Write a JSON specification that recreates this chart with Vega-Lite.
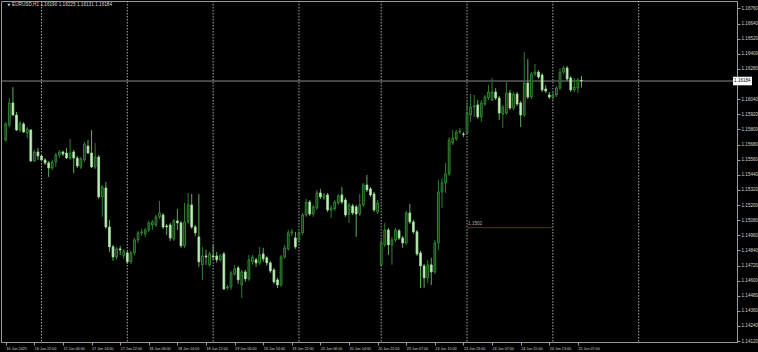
{
  "$schema": "https://vega.github.io/schema/vega-lite/v6.json",
  "width": 736,
  "height": 341,
  "autosize": {"type": "none"},
  "padding": {"left": 1, "top": 1, "right": 21, "bottom": 10},
  "background": "#000000",
  "config": {
    "view": {"stroke": "#9a9a9a", "strokeWidth": 1, "fill": "#000000"},
    "axis": {"domainColor": "#9a9a9a", "tickColor": "#9a9a9a", "labelColor": "#d4d4d4", "labelFont": "Liberation Sans", "labelFontSize": 4.6, "grid": false, "title": null, "tickSize": 3, "labelPadding": 1, "labelOverlap": false, "labelSeparation": 0}
  },
  "resolve": {"axis": {"x": "independent", "y": "independent"}},
  "datasets": {
    "bars": [
      {"k":0,"o":1.15716,"h":1.15859,"l":1.15700,"c":1.15843},
      {"k":1,"o":1.15835,"h":1.16049,"l":1.15819,"c":1.16010},
      {"k":2,"o":1.16010,"h":1.16136,"l":1.15906,"c":1.15914},
      {"k":3,"o":1.15914,"h":1.15938,"l":1.15788,"c":1.15795},
      {"k":4,"o":1.15795,"h":1.15867,"l":1.15780,"c":1.15851},
      {"k":5,"o":1.15843,"h":1.15859,"l":1.15772,"c":1.15780},
      {"k":6,"o":1.15772,"h":1.15819,"l":1.15732,"c":1.15803},
      {"k":7,"o":1.15795,"h":1.15803,"l":1.15542,"c":1.15550},
      {"k":8,"o":1.15550,"h":1.15637,"l":1.15542,"c":1.15621},
      {"k":9,"o":1.15621,"h":1.15653,"l":1.15558,"c":1.15589},
      {"k":10,"o":1.15589,"h":1.15605,"l":1.15550,"c":1.15558},
      {"k":11,"o":1.15558,"h":1.15573,"l":1.15518,"c":1.15534},
      {"k":12,"o":1.15534,"h":1.15550,"l":1.15423,"c":1.15494},
      {"k":13,"o":1.15494,"h":1.15558,"l":1.15478,"c":1.15542},
      {"k":14,"o":1.15542,"h":1.15613,"l":1.15502,"c":1.15597},
      {"k":15,"o":1.15597,"h":1.15637,"l":1.15573,"c":1.15621},
      {"k":16,"o":1.15621,"h":1.15629,"l":1.15589,"c":1.15605},
      {"k":17,"o":1.15613,"h":1.15653,"l":1.15565,"c":1.15573},
      {"k":18,"o":1.15573,"h":1.15724,"l":1.15558,"c":1.15613},
      {"k":19,"o":1.15621,"h":1.15637,"l":1.15454,"c":1.15573},
      {"k":20,"o":1.15573,"h":1.15589,"l":1.15494,"c":1.15510},
      {"k":21,"o":1.15502,"h":1.15581,"l":1.15486,"c":1.15565},
      {"k":22,"o":1.15558,"h":1.15700,"l":1.15542,"c":1.15684},
      {"k":23,"o":1.15668,"h":1.15716,"l":1.15605,"c":1.15613},
      {"k":24,"o":1.15613,"h":1.15795,"l":1.15494,"c":1.15502},
      {"k":25,"o":1.15502,"h":1.15692,"l":1.15486,"c":1.15581},
      {"k":26,"o":1.15581,"h":1.15597,"l":1.15248,"c":1.15264},
      {"k":27,"o":1.15264,"h":1.15359,"l":1.15106,"c":1.15343},
      {"k":28,"o":1.15335,"h":1.15383,"l":1.15010,"c":1.15026},
      {"k":29,"o":1.15026,"h":1.15082,"l":1.14828,"c":1.14868},
      {"k":30,"o":1.14868,"h":1.14884,"l":1.14757,"c":1.14788},
      {"k":31,"o":1.14788,"h":1.14868,"l":1.14765,"c":1.14852},
      {"k":32,"o":1.14852,"h":1.14876,"l":1.14804,"c":1.14844},
      {"k":33,"o":1.14796,"h":1.14852,"l":1.14773,"c":1.14836},
      {"k":34,"o":1.14820,"h":1.14836,"l":1.14733,"c":1.14749},
      {"k":35,"o":1.14749,"h":1.14836,"l":1.14733,"c":1.14820},
      {"k":36,"o":1.14820,"h":1.14939,"l":1.14804,"c":1.14923},
      {"k":37,"o":1.14923,"h":1.14995,"l":1.14899,"c":1.14979},
      {"k":38,"o":1.14979,"h":1.15010,"l":1.14955,"c":1.14987},
      {"k":39,"o":1.14971,"h":1.15018,"l":1.14947,"c":1.15002},
      {"k":40,"o":1.15002,"h":1.15074,"l":1.14987,"c":1.15058},
      {"k":41,"o":1.15042,"h":1.15082,"l":1.15002,"c":1.15066},
      {"k":42,"o":1.15042,"h":1.15121,"l":1.15026,"c":1.15106},
      {"k":43,"o":1.15106,"h":1.15232,"l":1.15090,"c":1.15137},
      {"k":44,"o":1.15121,"h":1.15137,"l":1.15010,"c":1.15026},
      {"k":45,"o":1.15034,"h":1.15050,"l":1.14963,"c":1.15026},
      {"k":46,"o":1.15042,"h":1.15058,"l":1.14915,"c":1.14939},
      {"k":47,"o":1.14931,"h":1.15090,"l":1.14915,"c":1.15074},
      {"k":48,"o":1.15074,"h":1.15169,"l":1.15002,"c":1.15058},
      {"k":49,"o":1.15058,"h":1.15074,"l":1.14860,"c":1.14876},
      {"k":50,"o":1.14876,"h":1.15217,"l":1.14860,"c":1.15066},
      {"k":51,"o":1.15066,"h":1.15296,"l":1.15050,"c":1.15201},
      {"k":52,"o":1.15201,"h":1.15288,"l":1.15010,"c":1.15026},
      {"k":53,"o":1.15026,"h":1.15042,"l":1.14955,"c":1.14979},
      {"k":54,"o":1.14947,"h":1.15288,"l":1.14709,"c":1.14749},
      {"k":55,"o":1.14725,"h":1.14868,"l":1.14606,"c":1.14796},
      {"k":56,"o":1.14796,"h":1.14844,"l":1.14725,"c":1.14788},
      {"k":57,"o":1.14725,"h":1.14828,"l":1.14709,"c":1.14812},
      {"k":58,"o":1.14796,"h":1.14884,"l":1.14765,"c":1.14788},
      {"k":59,"o":1.14796,"h":1.14828,"l":1.14741,"c":1.14765},
      {"k":60,"o":1.14765,"h":1.14812,"l":1.14749,"c":1.14796},
      {"k":61,"o":1.14812,"h":1.14828,"l":1.14527,"c":1.14534},
      {"k":62,"o":1.14542,"h":1.14566,"l":1.14527,"c":1.14550},
      {"k":63,"o":1.14550,"h":1.14677,"l":1.14527,"c":1.14661},
      {"k":64,"o":1.14653,"h":1.14725,"l":1.14638,"c":1.14693},
      {"k":65,"o":1.14701,"h":1.14717,"l":1.14574,"c":1.14606},
      {"k":66,"o":1.14566,"h":1.14685,"l":1.14463,"c":1.14669},
      {"k":67,"o":1.14669,"h":1.14685,"l":1.14590,"c":1.14614},
      {"k":68,"o":1.14614,"h":1.14804,"l":1.14598,"c":1.14765},
      {"k":69,"o":1.14749,"h":1.14804,"l":1.14725,"c":1.14788},
      {"k":70,"o":1.14765,"h":1.14781,"l":1.14709,"c":1.14741},
      {"k":71,"o":1.14741,"h":1.14868,"l":1.14725,"c":1.14804},
      {"k":72,"o":1.14812,"h":1.14860,"l":1.14749,"c":1.14773},
      {"k":73,"o":1.14781,"h":1.14796,"l":1.14717,"c":1.14741},
      {"k":74,"o":1.14741,"h":1.14757,"l":1.14661,"c":1.14677},
      {"k":75,"o":1.14685,"h":1.14701,"l":1.14574,"c":1.14590},
      {"k":76,"o":1.14606,"h":1.14622,"l":1.14542,"c":1.14566},
      {"k":77,"o":1.14566,"h":1.14804,"l":1.14550,"c":1.14788},
      {"k":78,"o":1.14788,"h":1.14884,"l":1.14773,"c":1.14860},
      {"k":79,"o":1.14852,"h":1.15002,"l":1.14836,"c":1.14979},
      {"k":80,"o":1.14979,"h":1.15010,"l":1.14955,"c":1.14987},
      {"k":81,"o":1.14939,"h":1.14987,"l":1.14852,"c":1.14868},
      {"k":82,"o":1.14923,"h":1.14995,"l":1.14899,"c":1.14979},
      {"k":83,"o":1.14979,"h":1.15137,"l":1.14963,"c":1.15121},
      {"k":84,"o":1.15121,"h":1.15248,"l":1.15106,"c":1.15224},
      {"k":85,"o":1.15224,"h":1.15240,"l":1.15114,"c":1.15129},
      {"k":86,"o":1.15129,"h":1.15201,"l":1.15106,"c":1.15185},
      {"k":87,"o":1.15177,"h":1.15320,"l":1.15161,"c":1.15296},
      {"k":88,"o":1.15296,"h":1.15328,"l":1.15248,"c":1.15264},
      {"k":89,"o":1.15256,"h":1.15296,"l":1.15240,"c":1.15280},
      {"k":90,"o":1.15280,"h":1.15296,"l":1.15145,"c":1.15161},
      {"k":91,"o":1.15161,"h":1.15201,"l":1.15098,"c":1.15177},
      {"k":92,"o":1.15169,"h":1.15240,"l":1.15153,"c":1.15224},
      {"k":93,"o":1.15217,"h":1.15288,"l":1.15201,"c":1.15272},
      {"k":94,"o":1.15280,"h":1.15343,"l":1.15209,"c":1.15224},
      {"k":95,"o":1.15240,"h":1.15256,"l":1.15106,"c":1.15121},
      {"k":96,"o":1.15129,"h":1.15217,"l":1.15058,"c":1.15201},
      {"k":97,"o":1.15193,"h":1.15209,"l":1.15121,"c":1.15137},
      {"k":98,"o":1.15185,"h":1.15201,"l":1.14947,"c":1.15129},
      {"k":99,"o":1.15129,"h":1.15288,"l":1.15114,"c":1.15201},
      {"k":100,"o":1.15201,"h":1.15375,"l":1.15185,"c":1.15359},
      {"k":101,"o":1.15359,"h":1.15439,"l":1.15304,"c":1.15320},
      {"k":102,"o":1.15328,"h":1.15343,"l":1.15264,"c":1.15280},
      {"k":103,"o":1.15288,"h":1.15304,"l":1.15145,"c":1.15161},
      {"k":104,"o":1.15145,"h":1.15240,"l":1.15129,"c":1.15217},
      {"k":105,"o":1.14725,"h":1.14923,"l":1.14709,"c":1.14899},
      {"k":106,"o":1.14884,"h":1.15058,"l":1.14868,"c":1.15002},
      {"k":107,"o":1.15002,"h":1.15018,"l":1.14804,"c":1.14884},
      {"k":108,"o":1.14884,"h":1.14947,"l":1.14725,"c":1.14923},
      {"k":109,"o":1.14923,"h":1.15018,"l":1.14907,"c":1.15002},
      {"k":110,"o":1.14995,"h":1.15010,"l":1.14923,"c":1.14939},
      {"k":111,"o":1.14939,"h":1.14955,"l":1.14860,"c":1.14899},
      {"k":112,"o":1.14899,"h":1.15153,"l":1.14884,"c":1.15137},
      {"k":113,"o":1.15137,"h":1.15209,"l":1.15050,"c":1.15066},
      {"k":114,"o":1.15066,"h":1.15082,"l":1.14971,"c":1.14987},
      {"k":115,"o":1.14987,"h":1.15002,"l":1.14796,"c":1.14812},
      {"k":116,"o":1.14820,"h":1.14836,"l":1.14542,"c":1.14717},
      {"k":117,"o":1.14717,"h":1.14733,"l":1.14542,"c":1.14622},
      {"k":118,"o":1.14622,"h":1.14765,"l":1.14582,"c":1.14725},
      {"k":119,"o":1.14725,"h":1.14781,"l":1.14566,"c":1.14669},
      {"k":120,"o":1.14669,"h":1.14923,"l":1.14653,"c":1.14899},
      {"k":121,"o":1.14899,"h":1.15399,"l":1.14844,"c":1.15304},
      {"k":122,"o":1.15304,"h":1.15415,"l":1.15177,"c":1.15375},
      {"k":123,"o":1.15375,"h":1.15534,"l":1.15296,"c":1.15447},
      {"k":124,"o":1.15447,"h":1.15740,"l":1.15431,"c":1.15716},
      {"k":125,"o":1.15692,"h":1.15795,"l":1.15676,"c":1.15732},
      {"k":126,"o":1.15724,"h":1.15795,"l":1.15708,"c":1.15780},
      {"k":127,"o":1.15780,"h":1.15811,"l":1.15764,"c":1.15788},
      {"k":128,"o":1.15764,"h":1.15780,"l":1.15740,"c":1.15760},
      {"k":129,"o":1.15772,"h":1.16017,"l":1.15756,"c":1.15930},
      {"k":130,"o":1.15914,"h":1.16081,"l":1.15859,"c":1.15978},
      {"k":131,"o":1.15978,"h":1.16073,"l":1.15899,"c":1.15986},
      {"k":132,"o":1.15994,"h":1.16033,"l":1.15883,"c":1.15899},
      {"k":133,"o":1.15899,"h":1.16033,"l":1.15859,"c":1.16010},
      {"k":134,"o":1.16002,"h":1.16073,"l":1.15986,"c":1.16057},
      {"k":135,"o":1.16049,"h":1.16152,"l":1.16033,"c":1.16097},
      {"k":136,"o":1.16033,"h":1.16208,"l":1.16025,"c":1.16097},
      {"k":137,"o":1.16097,"h":1.16128,"l":1.16033,"c":1.16049},
      {"k":138,"o":1.16049,"h":1.16065,"l":1.15875,"c":1.15930},
      {"k":139,"o":1.15922,"h":1.15994,"l":1.15811,"c":1.15978},
      {"k":140,"o":1.15930,"h":1.16176,"l":1.15914,"c":1.16089},
      {"k":141,"o":1.16089,"h":1.16113,"l":1.15954,"c":1.15970},
      {"k":142,"o":1.15970,"h":1.16097,"l":1.15954,"c":1.16081},
      {"k":143,"o":1.16081,"h":1.16097,"l":1.15986,"c":1.16002},
      {"k":144,"o":1.16010,"h":1.16025,"l":1.15819,"c":1.15914},
      {"k":145,"o":1.15914,"h":1.16414,"l":1.15899,"c":1.16168},
      {"k":146,"o":1.16168,"h":1.16358,"l":1.16041,"c":1.16057},
      {"k":147,"o":1.16057,"h":1.16255,"l":1.16041,"c":1.16240},
      {"k":148,"o":1.16240,"h":1.16319,"l":1.16224,"c":1.16255},
      {"k":149,"o":1.16255,"h":1.16271,"l":1.16200,"c":1.16216},
      {"k":150,"o":1.16232,"h":1.16247,"l":1.16097,"c":1.16113},
      {"k":151,"o":1.16121,"h":1.16152,"l":1.16089,"c":1.16105},
      {"k":152,"o":1.16073,"h":1.16097,"l":1.16041,"c":1.16057},
      {"k":153,"o":1.16057,"h":1.16097,"l":1.16033,"c":1.16073},
      {"k":154,"o":1.16073,"h":1.16144,"l":1.16057,"c":1.16128},
      {"k":155,"o":1.16128,"h":1.16287,"l":1.16113,"c":1.16255},
      {"k":156,"o":1.16255,"h":1.16303,"l":1.16240,"c":1.16287},
      {"k":157,"o":1.16287,"h":1.16303,"l":1.16184,"c":1.16200},
      {"k":158,"o":1.16208,"h":1.16224,"l":1.16097,"c":1.16113},
      {"k":159,"o":1.16113,"h":1.16208,"l":1.16097,"c":1.16136},
      {"k":160,"o":1.16128,"h":1.16208,"l":1.16089,"c":1.16192},
      {"k":161,"o":1.16190,"h":1.16225,"l":1.16131,"c":1.16184}
    ],
    "seps": [{"k":10},{"k":34},{"k":58},{"k":82},{"k":105},{"k":129},{"k":153},{"k":177}]
  },
  "layer": [
    {
      "data": {"name": "seps"},
      "mark": {"type": "rule", "color": "#a8a8a8", "strokeWidth": 1, "strokeDash": [1.5, 1.5]},
      "encoding": {
        "x": {"field": "k", "type": "quantitative", "scale": {"domain": [0.07, 203.1], "nice": false, "zero": false},
          "axis": {"orient": "bottom", "values": [0.07,8,16,24,32,40,48,56,64,72,80,88,96,104,112,120,128,136,144,152,160],
            "labelAlign": "left", "labelBaseline": "top", "labelFlush": false, "labelOverlap": false, "labelBound": false, "labelPadding": 1, "labelFontSize": 3.7,
            "labelExpr": "datum.value < 1 ? '16 Jun 2025' : ['16 Jun 22:00','17 Jun 06:00','17 Jun 14:00','17 Jun 22:00','18 Jun 06:00','18 Jun 14:00','18 Jun 22:00','19 Jun 06:00','19 Jun 14:00','19 Jun 22:00','20 Jun 06:00','20 Jun 14:00','20 Jun 22:00','23 Jun 07:00','23 Jun 15:00','23 Jun 23:00','24 Jun 07:00','24 Jun 15:00','24 Jun 23:00','25 Jun 07:00'][round(datum.value/8)-1]"}}
      }
    },
    {
      "data": {"values": [{}]},
      "mark": {"type": "rule", "color": "#8a8a8a", "strokeWidth": 1},
      "encoding": {
        "y": {"datum": 1.16184, "type": "quantitative", "scale": {"domain": [1.14113, 1.16819], "nice": false, "zero": false},
          "axis": {"orient": "right", "format": ".5f", "labelAlign": "left", "labelBaseline": "middle", "labelOverlap": false, "labelBound": false, "labelFlush": false,
            "values": [1.1412,1.1424,1.1436,1.1448,1.146,1.1472,1.1484,1.1496,1.1508,1.152,1.1532,1.1544,1.1556,1.1568,1.158,1.1592,1.1604,1.1628,1.164,1.1652,1.1664,1.1676]}}
      }
    },
    {
      "data": {"values": [{}]},
      "mark": {"type": "rule", "color": "#6e1616", "strokeWidth": 1.2},
      "encoding": {
        "x": {"datum": 129, "type": "quantitative", "axis": null},
        "x2": {"datum": 152.7},
        "y": {"datum": 1.1502, "type": "quantitative", "axis": null}
      }
    },
    {
      "data": {"values": [{}]},
      "mark": {"type": "text", "text": "1.1502", "color": "#b0b0b0", "font": "Liberation Sans", "fontSize": 4.6, "align": "left", "baseline": "bottom", "dy": -1.5},
      "encoding": {
        "x": {"datum": 129.3, "type": "quantitative", "axis": null},
        "y": {"datum": 1.1502, "type": "quantitative", "axis": null}
      }
    },
    {
      "data": {"name": "bars"},
      "mark": {"type": "rule", "strokeWidth": 1},
      "encoding": {
        "x": {"field": "k", "type": "quantitative", "axis": null},
        "y": {"field": "l", "type": "quantitative", "axis": null},
        "y2": {"field": "h"},
        "color": {"condition": {"test": "datum.c >= datum.o", "value": "#2f7d2f"}, "value": "#5fae5a"}
      }
    },
    {
      "data": {"name": "bars"},
      "mark": {"type": "bar", "size": 1.8, "strokeWidth": 0.8},
      "encoding": {
        "x": {"field": "k", "type": "quantitative", "axis": null},
        "y": {"field": "o", "type": "quantitative", "axis": null},
        "y2": {"field": "c"},
        "fill": {"condition": {"test": "datum.c >= datum.o", "value": "#0e2e0e"}, "value": "#c4f2bd"},
        "stroke": {"condition": {"test": "datum.c >= datum.o", "value": "#3d9a3d"}, "value": "#a6e0a0"}
      }
    },
    {
      "data": {"values": [{}]},
      "mark": {"type": "text", "text": "▼", "color": "#d8d8d8", "font": "DejaVu Sans", "fontSize": 3.5, "align": "left", "baseline": "middle", "dx": 1.5, "dy": 4},
      "encoding": {
        "x": {"datum": 0.07, "type": "quantitative", "axis": null},
        "y": {"datum": 1.16819, "type": "quantitative", "axis": null}
      }
    },
    {
      "data": {"values": [{}]},
      "mark": {"type": "text", "text": "EURUSD,H1  1.16190 1.16225 1.16131 1.16184", "color": "#d8d8d8", "font": "Liberation Sans", "fontSize": 4.7, "align": "left", "baseline": "middle", "dx": 6, "dy": 4},
      "encoding": {
        "x": {"datum": 0.07, "type": "quantitative", "axis": null},
        "y": {"datum": 1.16819, "type": "quantitative", "axis": null}
      }
    },
    {
      "data": {"values": [{}]},
      "mark": {"type": "bar", "fill": "#ffffff"},
      "encoding": {
        "x": {"datum": 203.4, "type": "quantitative", "axis": null},
        "x2": {"datum": 208.7},
        "y": {"datum": 1.16218, "type": "quantitative", "axis": null},
        "y2": {"datum": 1.16150}
      }
    },
    {
      "data": {"values": [{}]},
      "mark": {"type": "text", "text": "1.16184", "color": "#000000", "font": "Liberation Sans", "fontSize": 4.6, "align": "left", "baseline": "middle", "dx": 1},
      "encoding": {
        "x": {"datum": 203.4, "type": "quantitative", "axis": null},
        "y": {"datum": 1.16184, "type": "quantitative", "axis": null}
      }
    }
  ]
}
